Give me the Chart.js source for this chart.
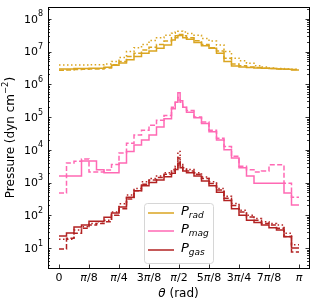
<!DOCTYPE html>
<html>
<head>
<meta charset="utf-8">
<script src="https://cdn.jsdelivr.net/npm/chart.js@4.4.0/dist/chart.umd.min.js"></script>
<style>
  html, body { margin: 0; padding: 0; background: #fff; }
</style>
</head>
<body>
<canvas id="myChart" width="317" height="306"></canvas>
<script>
// theta grid, in units of pi/32 (extra points around pi/2 for the spike)
const thetaK = [0, 1, 2, 3, 4, 5, 6, 7, 8, 9, 10, 11, 12, 13, 14, 15,
    15.5, 15.85, 16.15, 16.5,
    17, 18, 19, 20, 21, 22, 23, 24, 25, 26, 27, 28, 29, 30, 31, 32];

// log10 of pressure
const pRadSolid = [6.47, 6.47, 6.48, 6.48, 6.49, 6.49, 6.52, 6.58, 6.65, 6.75, 6.85, 6.95, 7.02, 7.10, 7.20, 7.35,
    7.42, 7.49, 7.49, 7.42,
    7.38, 7.28, 7.18, 7.10, 6.95, 6.70, 6.56, 6.53, 6.51, 6.50, 6.49, 6.48, 6.47, 6.46, 6.44, 6.44];
const pRadDashed = [6.43, 6.44, 6.45, 6.46, 6.47, 6.47, 6.50, 6.60, 6.70, 6.85, 6.95, 7.05, 7.13, 7.22, 7.32, 7.42,
    7.48, 7.52, 7.52, 7.48,
    7.42, 7.33, 7.22, 7.12, 7.02, 6.80, 6.62, 6.57, 6.53, 6.51, 6.49, 6.48, 6.47, 6.46, 6.45, 6.45];
const pRadDotted = [6.59, 6.59, 6.59, 6.59, 6.60, 6.60, 6.62, 6.70, 6.82, 7.00, 7.12, 7.22, 7.34, 7.42, 7.50, 7.56,
    7.60, 7.62, 7.62, 7.60,
    7.55, 7.50, 7.40, 7.32, 7.20, 7.00, 6.80, 6.72, 6.64, 6.57, 6.53, 6.50, 6.48, 6.47, 6.46, 6.46];

const pMagSolid = [3.20, 3.20, 3.20, 3.66, 3.66, 3.39, 3.30, 3.30, 3.60, 3.95, 4.15, 4.30, 4.45, 4.70, 4.95, 5.25,
    5.45, 5.74, 5.50, 5.30,
    5.15, 4.98, 4.80, 4.55, 4.30, 4.00, 3.75, 3.45, 3.20, 2.98, 2.98, 2.98, 2.98, 2.68, 2.31, 2.31];
const pMagDashed = [2.68, 3.60, 3.65, 3.72, 3.32, 3.32, 3.38, 3.55, 3.90, 4.20, 4.45, 4.60, 4.75, 4.90, 5.05, 5.30,
    5.45, 5.60, 5.45, 5.30,
    5.20, 5.00, 4.85, 4.60, 4.35, 4.10, 3.80, 3.50, 3.39, 3.32, 3.35, 3.54, 3.54, 2.98, 2.55, 2.55];

const pGasSolid = [1.37, 1.46, 1.64, 1.70, 1.82, 1.82, 1.94, 2.07, 2.25, 2.55, 2.75, 2.90, 3.00, 3.08, 3.18, 3.28,
    3.40, 3.60, 3.45, 3.35,
    3.30, 3.20, 3.05, 2.90, 2.70, 2.45, 2.20, 2.00, 1.85, 1.78, 1.70, 1.62, 1.55, 1.34, 1.00, 1.00];
const pGasDashed = [0.97, 1.30, 1.45, 1.60, 1.70, 1.75, 1.80, 2.00, 2.20, 2.50, 2.75, 2.95, 3.08, 3.15, 3.25, 3.35,
    3.45, 3.75, 3.50, 3.40,
    3.35, 3.25, 3.12, 2.97, 2.77, 2.52, 2.30, 2.10, 1.95, 1.85, 1.75, 1.70, 1.60, 1.35, 0.88, 0.88];
const pGasDotted = [1.27, 1.27, 1.55, 1.65, 1.75, 1.80, 1.85, 2.10, 2.35, 2.62, 2.82, 3.02, 3.12, 3.20, 3.30, 3.40,
    3.50, 3.95, 3.55, 3.45,
    3.40, 3.30, 3.17, 3.02, 2.82, 2.58, 2.36, 2.15, 2.00, 1.90, 1.80, 1.75, 1.70, 1.45, 1.10, 1.10];

// tick labels
const xTickEighths = [0, 1, 2, 3, 4, 5, 6, 7, 8];
const xTickLabels = ['0', 'π/8', 'π/4', '3π/8', 'π/2', '5π/8', '3π/4', '7π/8', 'π'];
const yTickExps = [1, 2, 3, 4, 5, 6, 7, 8];

const legendNames = [['P', 'rad'], ['P', 'mag'], ['P', 'gas']];

const RAD = 'goldenrod';
const MAG = 'hotpink';
const GAS = 'firebrick';
const FONT = '"DejaVu Sans", sans-serif';

function toPoints(logs) {
    return logs.map((v, i) => ({ x: thetaK[i] * Math.PI / 32, y: Math.pow(10, v) }));
}

function makeSet(logs, color, dash) {
    return {
        data: toPoints(logs),
        borderColor: color,
        borderWidth: 1.5,
        borderDash: dash,
        stepped: true,
        pointRadius: 0,
        fill: false
    };
}

const DASHED = [5, 2.4];
const DOTTED = [1.5, 2.5];

const datasets = [
    makeSet(pRadSolid, RAD, []),
    makeSet(pRadDashed, RAD, DASHED),
    makeSet(pRadDotted, RAD, DOTTED),
    makeSet(pMagSolid, MAG, []),
    makeSet(pMagDashed, MAG, DASHED),
    makeSet(pGasSolid, GAS, []),
    makeSet(pGasDashed, GAS, DASHED),
    makeSet(pGasDotted, GAS, DOTTED)
];

// draw pieces of text, some italic
function drawParts(ctx, parts, x, y, align) {
    let total = 0;
    parts.forEach(p => { ctx.font = p.font; total += ctx.measureText(p.t).width; });
    let cx = align === 'center' ? x - total / 2 : (align === 'right' ? x - total : x);
    ctx.textAlign = 'left';
    parts.forEach(p => {
        ctx.font = p.font;
        ctx.fillText(p.t, cx, y + (p.dy || 0));
        cx += ctx.measureText(p.t).width;
    });
}

function piParts(label, size) {
    const parts = [];
    for (const ch of label) {
        parts.push({ t: ch, font: (ch === 'π' ? 'italic ' : '') + size + 'px ' + FONT });
    }
    return parts;
}

const axesPlugin = {
    id: 'axesPlugin',
    afterDatasetsDraw(chart) {
        const ctx = chart.ctx;
        const a = chart.chartArea;
        const xs = chart.scales.x;
        const ys = chart.scales.y;
        ctx.save();
        ctx.strokeStyle = '#000';
        ctx.fillStyle = '#000';

        // ticks (inward)
        ctx.lineWidth = 0.8;
        ctx.beginPath();
        xTickEighths.forEach(k => {
            const px = Math.round(xs.getPixelForValue(k * Math.PI / 8)) + 0.5;
            ctx.moveTo(px, a.bottom);
            ctx.lineTo(px, a.bottom - 3.5);
        });
        for (let e = 0; e <= 8; e++) {
            for (let m = 1; m <= 9; m++) {
                const v = m * Math.pow(10, e);
                if (v < ys.min || v > ys.max) continue;
                const py = Math.round(ys.getPixelForValue(v)) + 0.5;
                const len = m === 1 ? 3.5 : 2;
                ctx.moveTo(a.left, py);
                ctx.lineTo(a.left + len, py);
                ctx.moveTo(a.right, py);
                ctx.lineTo(a.right - len, py);
            }
        }
        ctx.stroke();

        // frame
        ctx.lineWidth = 1;
        ctx.strokeRect(Math.round(a.left) + 0.5, Math.round(a.top) + 0.5,
            Math.round(a.right - a.left), Math.round(a.bottom - a.top));

        // y tick labels 10^n
        ctx.textBaseline = 'middle';
        yTickExps.forEach(e => {
            const py = ys.getPixelForValue(Math.pow(10, e));
            ctx.font = '8px ' + FONT;
            const supW = ctx.measureText(String(e)).width;
            ctx.textAlign = 'right';
            ctx.fillText(String(e), 43, py - 4.5);
            ctx.font = '11px ' + FONT;
            ctx.fillText('10', 43 - supW, py + 1);
        });

        // x tick labels
        xTickEighths.forEach((k, i) => {
            const px = xs.getPixelForValue(k * Math.PI / 8);
            drawParts(ctx, piParts(xTickLabels[i], 11), px, 278.5, 'center');
        });

        // x title
        drawParts(ctx, [
            { t: 'θ', font: 'italic 12px ' + FONT },
            { t: ' (rad)', font: '12px ' + FONT }
        ], (a.left + a.right) / 2, 293.5, 'center');

        // y title
        ctx.translate(10.5, (a.top + a.bottom) / 2);
        ctx.rotate(-Math.PI / 2);
        drawParts(ctx, [
            { t: 'Pressure (dyn cm', font: '12px ' + FONT },
            { t: '−2', font: '8.5px ' + FONT, dy: -4.5 },
            { t: ')', font: '12px ' + FONT }
        ], 0, 0, 'center');
        ctx.restore();
    },
    afterDraw(chart) {
        const ctx = chart.ctx;
        ctx.save();
        // legend box
        const bx = 144.5, by = 203.5, bw = 69, bh = 60, r = 3;
        ctx.beginPath();
        ctx.roundRect(bx, by, bw, bh, r);
        ctx.fillStyle = 'rgba(255,255,255,0.8)';
        ctx.fill();
        ctx.strokeStyle = '#d6d6d6';
        ctx.lineWidth = 1;
        ctx.stroke();

        const rows = [213, 231, 250];
        const cols = [RAD, MAG, GAS];
        rows.forEach((ry, i) => {
            ctx.strokeStyle = cols[i];
            ctx.lineWidth = 1.5;
            ctx.beginPath();
            ctx.moveTo(148, ry);
            ctx.lineTo(174, ry);
            ctx.stroke();
            ctx.fillStyle = '#000';
            ctx.textBaseline = 'middle';
            drawParts(ctx, [
                { t: legendNames[i][0], font: 'italic 13px ' + FONT },
                { t: legendNames[i][1], font: 'italic 9px ' + FONT, dy: 4 }
            ], 181, ry - 1, 'left');
        });
        ctx.restore();
    }
};

const config = {
    type: 'line',
    data: { datasets: datasets },
    options: {
        responsive: false,
        animation: false,
        layout: { padding: { left: 48, right: 8, top: 7, bottom: 38 } },
        plugins: {
            legend: { display: false },
            tooltip: { enabled: false }
        },
        scales: {
            x: { type: 'linear', display: false, min: -0.144, max: 3.2725 },
            y: { type: 'logarithmic', display: false, min: 2.45, max: 2.3e8 }
        }
    },
    plugins: [axesPlugin]
};

const chart = new Chart(document.getElementById('myChart'), config);
</script>
</body>
</html>
